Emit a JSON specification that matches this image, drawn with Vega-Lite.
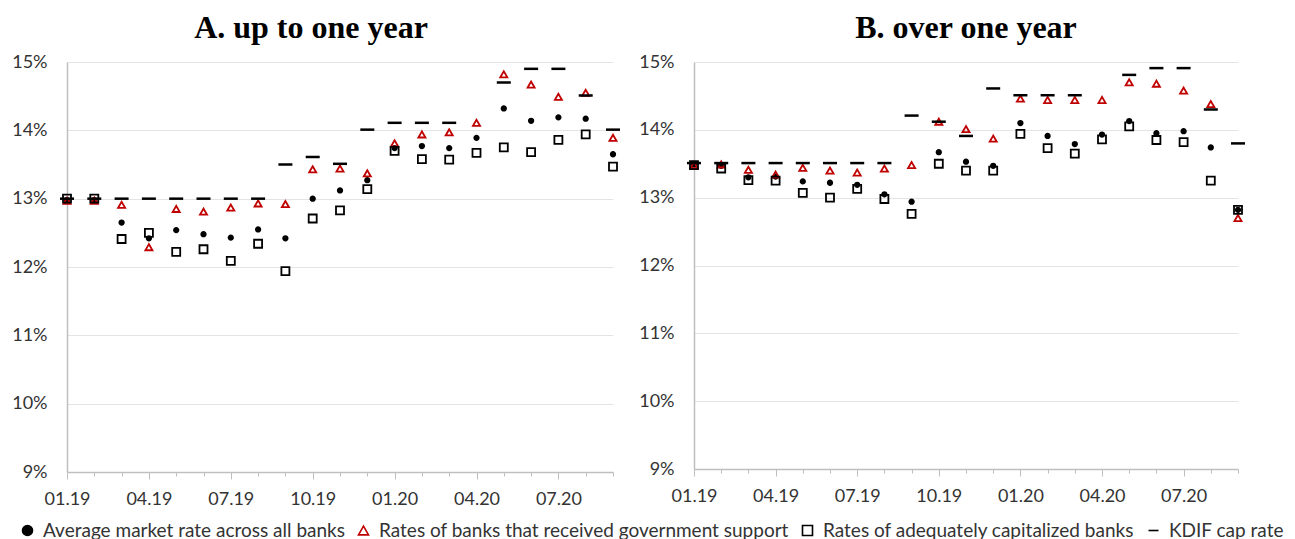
{
  "$schema": "https://vega.github.io/schema/vega-lite/v6.json",
  "background": "white",
  "padding": {"left": 11, "top": 12, "right": 5, "bottom": 5},
  "datasets": {
    "rates": [
      {"p": "A", "m": "01.19", "avg": 12.98, "gov": 12.97, "adeq": 13.0, "cap": 13.0},
      {"p": "A", "m": "02.19", "avg": 12.98, "gov": 12.97, "adeq": 13.0, "cap": 13.0},
      {"p": "A", "m": "03.19", "avg": 12.65, "gov": 12.91, "adeq": 12.41, "cap": 13.0},
      {"p": "A", "m": "04.19", "avg": 12.42, "gov": 12.29, "adeq": 12.5, "cap": 13.0},
      {"p": "A", "m": "05.19", "avg": 12.54, "gov": 12.85, "adeq": 12.22, "cap": 13.0},
      {"p": "A", "m": "06.19", "avg": 12.48, "gov": 12.81, "adeq": 12.26, "cap": 13.0},
      {"p": "A", "m": "07.19", "avg": 12.43, "gov": 12.87, "adeq": 12.09, "cap": 13.0},
      {"p": "A", "m": "08.19", "avg": 12.55, "gov": 12.93, "adeq": 12.34, "cap": 13.0},
      {"p": "A", "m": "09.19", "avg": 12.42, "gov": 12.92, "adeq": 11.94, "cap": 13.5},
      {"p": "A", "m": "10.19", "avg": 13.0, "gov": 13.43, "adeq": 12.71, "cap": 13.61},
      {"p": "A", "m": "11.19", "avg": 13.12, "gov": 13.44, "adeq": 12.83, "cap": 13.51},
      {"p": "A", "m": "12.19", "avg": 13.27, "gov": 13.37, "adeq": 13.14, "cap": 14.01},
      {"p": "A", "m": "01.20", "avg": 13.74, "gov": 13.81, "adeq": 13.7, "cap": 14.11},
      {"p": "A", "m": "02.20", "avg": 13.77, "gov": 13.94, "adeq": 13.58, "cap": 14.11},
      {"p": "A", "m": "03.20", "avg": 13.74, "gov": 13.97, "adeq": 13.57, "cap": 14.11},
      {"p": "A", "m": "04.20", "avg": 13.89, "gov": 14.11, "adeq": 13.67, "cap": null},
      {"p": "A", "m": "05.20", "avg": 14.32, "gov": 14.82, "adeq": 13.75, "cap": 14.7},
      {"p": "A", "m": "06.20", "avg": 14.14, "gov": 14.67, "adeq": 13.68, "cap": 14.9},
      {"p": "A", "m": "07.20", "avg": 14.19, "gov": 14.49, "adeq": 13.86, "cap": 14.9},
      {"p": "A", "m": "08.20", "avg": 14.17, "gov": 14.55, "adeq": 13.94, "cap": 14.51},
      {"p": "A", "m": "09.20", "avg": 13.65, "gov": 13.89, "adeq": 13.47, "cap": 14.01},
      {"p": "B", "m": "01.19", "avg": 13.49, "gov": 13.48, "adeq": 13.48, "cap": 13.51},
      {"p": "B", "m": "02.19", "avg": 13.47, "gov": 13.49, "adeq": 13.43, "cap": 13.51},
      {"p": "B", "m": "03.19", "avg": 13.3, "gov": 13.41, "adeq": 13.26, "cap": 13.51},
      {"p": "B", "m": "04.19", "avg": 13.31, "gov": 13.34, "adeq": 13.25, "cap": 13.51},
      {"p": "B", "m": "05.19", "avg": 13.24, "gov": 13.44, "adeq": 13.07, "cap": 13.51},
      {"p": "B", "m": "06.19", "avg": 13.22, "gov": 13.4, "adeq": 13.0, "cap": 13.51},
      {"p": "B", "m": "07.19", "avg": 13.19, "gov": 13.37, "adeq": 13.13, "cap": 13.51},
      {"p": "B", "m": "08.19", "avg": 13.05, "gov": 13.43, "adeq": 12.98, "cap": 13.51},
      {"p": "B", "m": "09.19", "avg": 12.94, "gov": 13.48, "adeq": 12.76, "cap": 14.21},
      {"p": "B", "m": "10.19", "avg": 13.67, "gov": 14.12, "adeq": 13.5, "cap": 14.12},
      {"p": "B", "m": "11.19", "avg": 13.53, "gov": 14.01, "adeq": 13.4, "cap": 13.91},
      {"p": "B", "m": "12.19", "avg": 13.47, "gov": 13.87, "adeq": 13.4, "cap": 14.61},
      {"p": "B", "m": "01.20", "avg": 14.1, "gov": 14.46, "adeq": 13.94, "cap": 14.51},
      {"p": "B", "m": "02.20", "avg": 13.91, "gov": 14.44, "adeq": 13.73, "cap": 14.51},
      {"p": "B", "m": "03.20", "avg": 13.79, "gov": 14.44, "adeq": 13.65, "cap": 14.51},
      {"p": "B", "m": "04.20", "avg": 13.93, "gov": 14.44, "adeq": 13.86, "cap": null},
      {"p": "B", "m": "05.20", "avg": 14.13, "gov": 14.7, "adeq": 14.05, "cap": 14.81},
      {"p": "B", "m": "06.20", "avg": 13.95, "gov": 14.68, "adeq": 13.85, "cap": 14.91},
      {"p": "B", "m": "07.20", "avg": 13.98, "gov": 14.58, "adeq": 13.82, "cap": 14.91},
      {"p": "B", "m": "08.20", "avg": 13.74, "gov": 14.38, "adeq": 13.25, "cap": 14.3},
      {"p": "B", "m": "09.20", "avg": 12.82, "gov": 12.7, "adeq": 12.82, "cap": 13.8}
    ]
  },
  "config": {
    "view": {"stroke": null},
    "font": "Lato",
    "axis": {
      "labelFont": "Lato",
      "labelFontSize": 18,
      "labelColor": "#333333",
      "domainColor": "#bfbfbf",
      "tickColor": "#bfbfbf",
      "gridColor": "#e4e4e4",
      "title": null
    },
    "title": {"font": "Liberation Serif", "fontSize": 32, "fontWeight": "bold", "color": "black"}
  },
  "spacing": 81,
  "bounds": "flush",
  "hconcat": [
    {
      "width": 546,
      "height": 410,
      "title": {"text": "A. up to one year", "anchor": "middle", "offset": 8, "dx": -29},
      "data": {"name": "rates"},
      "transform": [
        {"filter": "datum.p == 'A'"},
        {"fold": ["avg", "gov", "adeq", "cap"], "as": ["s", "v"]},
        {"filter": "isValid(datum.v)"}
      ],
      "mark": {"type": "point", "opacity": 1},
      "encoding": {
        "x": {
          "field": "m", "type": "ordinal", "sort": null,
          "scale": {"type": "point", "padding": 0},
          "axis": {
            "labelAngle": 0,
            "labelExpr": "indexof(['01.19','04.19','07.19','10.19','01.20','04.20','07.20'], datum.value) >= 0 ? datum.value : ''",
            "tickSize": {"condition": {"test": "indexof(['01.19','04.19','07.19','10.19','01.20','04.20','07.20'], datum.value) >= 0", "value": 7}, "value": 4},
            "labelPadding": 11,
            "domainWidth": 1.3,
            "labelOverlap": false,
            "grid": false
          }
        },
        "y": {
          "field": "v", "type": "quantitative",
          "scale": {"domain": [9, 15], "nice": false, "zero": false},
          "axis": {"values": [9, 10, 11, 12, 13, 14, 15], "labelExpr": "datum.value + '%'", "grid": true, "ticks": false, "labelPadding": 20, "domainWidth": 1.5}
        },
        "shape": {
          "field": "s", "type": "nominal",
          "scale": {"domain": ["avg", "gov", "adeq", "cap"], "range": ["circle", "triangle-up", "square", "M-1,0L1,0"]},
          "legend": {
            "orient": "none", "legendX": -49, "legendY": 459, "direction": "horizontal", "title": null,
            "gridAlign": "none", "columnPadding": 9, "labelOffset": 6, "labelLimit": 0,
            "labelFont": "Lato", "labelFontSize": 19, "labelColor": "#333333",
            "symbolStrokeWidth": 1.6,
            "labelExpr": "{'avg':'Average market rate across all banks','gov':'Rates of banks that received government support','adeq':'Rates of adequately capitalized banks','cap':'KDIF cap rate'}[datum.value]",
            "encode": {"symbols": {"update": {"size": {"signal": "datum.value == 'cap' ? 130 : datum.value == 'avg' ? 10 : 45"}}}}
          }
        },
        "fill": {
          "field": "s", "type": "nominal",
          "scale": {"domain": ["avg", "gov", "adeq", "cap"], "range": ["black", "transparent", "transparent", "transparent"]}
        },
        "stroke": {
          "field": "s", "type": "nominal",
          "scale": {"domain": ["avg", "gov", "adeq", "cap"], "range": ["black", "#c00000", "black", "black"]}
        },
        "size": {"condition": [{"test": "datum.s == 'cap'", "value": 196}, {"test": "datum.s == 'avg'", "value": 20}, {"test": "datum.s == 'gov'", "value": 50}], "value": 64},
        "strokeWidth": {"condition": {"test": "datum.s == 'cap'", "value": 2.5}, "value": 1.8}
      }
    },
    {
      "width": 544,
      "height": 407,
      "title": {"text": "B. over one year", "anchor": "middle", "offset": 8, "dx": 0},
      "data": {"name": "rates"},
      "transform": [
        {"filter": "datum.p == 'B'"},
        {"fold": ["avg", "gov", "adeq", "cap"], "as": ["s", "v"]},
        {"filter": "isValid(datum.v)"}
      ],
      "mark": {"type": "point", "opacity": 1},
      "encoding": {
        "x": {
          "field": "m", "type": "ordinal", "sort": null,
          "scale": {"type": "point", "padding": 0},
          "axis": {
            "labelAngle": 0,
            "labelExpr": "indexof(['01.19','04.19','07.19','10.19','01.20','04.20','07.20'], datum.value) >= 0 ? datum.value : ''",
            "tickSize": {"condition": {"test": "indexof(['01.19','04.19','07.19','10.19','01.20','04.20','07.20'], datum.value) >= 0", "value": 7}, "value": 4},
            "labelPadding": 11,
            "domainWidth": 1.3,
            "labelOverlap": false,
            "grid": false
          }
        },
        "y": {
          "field": "v", "type": "quantitative",
          "scale": {"domain": [9, 15], "nice": false, "zero": false},
          "axis": {"values": [9, 10, 11, 12, 13, 14, 15], "labelExpr": "datum.value + '%'", "grid": true, "ticks": false, "labelPadding": 20, "domainWidth": 1.5}
        },
        "shape": {
          "field": "s", "type": "nominal",
          "scale": {"domain": ["avg", "gov", "adeq", "cap"], "range": ["circle", "triangle-up", "square", "M-1,0L1,0"]}
        },
        "fill": {
          "field": "s", "type": "nominal",
          "scale": {"domain": ["avg", "gov", "adeq", "cap"], "range": ["black", "transparent", "transparent", "transparent"]}
        },
        "stroke": {
          "field": "s", "type": "nominal",
          "scale": {"domain": ["avg", "gov", "adeq", "cap"], "range": ["black", "#c00000", "black", "black"]}
        },
        "size": {"condition": [{"test": "datum.s == 'cap'", "value": 196}, {"test": "datum.s == 'avg'", "value": 20}, {"test": "datum.s == 'gov'", "value": 50}], "value": 64},
        "strokeWidth": {"condition": {"test": "datum.s == 'cap'", "value": 2.5}, "value": 1.8}
      }
    }
  ]
}
